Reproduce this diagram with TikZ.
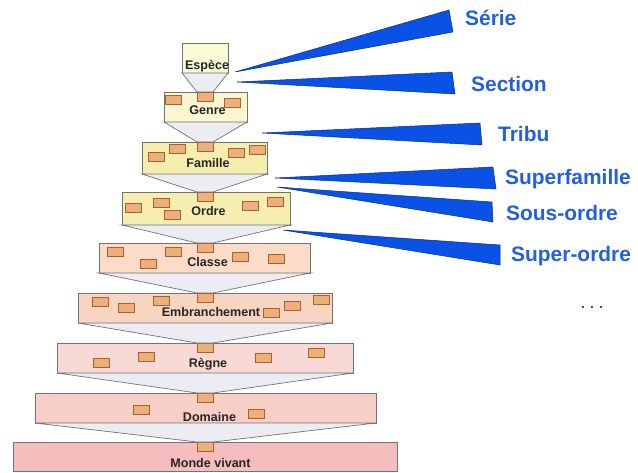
\documentclass[tikz,border=0pt]{standalone}
\usepackage{fontspec}
\setmainfont{Liberation Sans}
\definecolor{cEsp}{RGB}{251,250,214}
\definecolor{cGen}{RGB}{250,247,208}
\definecolor{cFam}{RGB}{245,238,174}
\definecolor{cOrd}{RGB}{245,238,176}
\definecolor{cCla}{RGB}{251,220,200}
\definecolor{cEmb}{RGB}{248,213,195}
\definecolor{cReg}{RGB}{249,217,214}
\definecolor{cDom}{RGB}{247,207,198}
\definecolor{cMon}{RGB}{245,189,189}
\definecolor{cFun}{RGB}{236,236,243}
\definecolor{cTagF}{RGB}{238,176,122}
\definecolor{cTagD}{RGB}{165,98,48}
\definecolor{cWedge}{RGB}{10,82,230}
\definecolor{cWedgeD}{RGB}{10,40,140}
\definecolor{cBlue}{RGB}{35,95,222}
\definecolor{cDots}{RGB}{55,70,140}
\begin{document}
\begin{tikzpicture}[x=1bp,y=-1bp,
  lvl/.style={draw=black!55, line width=0.7bp, inner sep=0, outer sep=0},
  tag/.style={draw=cTagD, fill=cTagF, line width=0.8bp, minimum width=16bp, minimum height=9bp, inner sep=0, outer sep=0},
  funnel/.style={draw=black!55, line width=0.7bp, fill=cFun},
  lvltext/.style={anchor=base, inner sep=0, font=\bfseries\fontsize{12.6}{14}\selectfont, text=black!85},
  wedge/.style={fill=cWedge, draw=cWedgeD, line width=0.5bp, line join=miter},
  rank/.style={anchor=base west, inner sep=0, font=\bfseries\fontsize{21}{24}\selectfont, text=cBlue}]
\useasboundingbox (0,0) rectangle (638,473);
% level boxes
\node[lvl, fill=cEsp, minimum width=46bp, minimum height=30bp] (espece) at (205,58) {};
\node[lvl, fill=cGen, minimum width=83bp, minimum height=30bp] (genre) at (205.5,107) {};
\node[lvl, fill=cFam, minimum width=125bp, minimum height=32bp] (famille) at (204.5,158) {};
\node[lvl, fill=cOrd, minimum width=168bp, minimum height=33bp] (ordre) at (206,208.5) {};
\node[lvl, fill=cCla, minimum width=211bp, minimum height=30bp] (classe) at (204.5,258) {};
\node[lvl, fill=cEmb, minimum width=254bp, minimum height=30bp] (embr) at (205,308) {};
\node[lvl, fill=cReg, minimum width=296bp, minimum height=30bp] (regne) at (205,358) {};
\node[lvl, fill=cDom, minimum width=341bp, minimum height=30bp] (domaine) at (205.5,408) {};
\node[lvl, fill=cMon, minimum width=384bp, minimum height=29bp] (monde) at (205,456.5) {};
% central tags
\node[tag, anchor=north] (genreC) at (205,92) {};
\node[tag, anchor=north] (familleC) at (205,142) {};
\node[tag, anchor=north] (ordreC) at (205,192) {};
\node[tag, anchor=north] (classeC) at (205,243) {};
\node[tag, anchor=north] (embrC) at (205,293) {};
\node[tag, anchor=north] (regneC) at (205,343) {};
\node[tag, anchor=north] (domaineC) at (205,393) {};
\node[tag, anchor=north] (mondeC) at (205,442) {};
% funnels
\draw[funnel] (espece.south west) -- (genreC.north west) -- (genreC.north east) -- (espece.south east) -- cycle;
\draw[funnel] (genre.south west) -- (familleC.north west) -- (familleC.north east) -- (genre.south east) -- cycle;
\draw[funnel] (famille.south west) -- (ordreC.north west) -- (ordreC.north east) -- (famille.south east) -- cycle;
\draw[funnel] (ordre.south west) -- (classeC.north west) -- (classeC.north east) -- (ordre.south east) -- cycle;
\draw[funnel] (classe.south west) -- (embrC.north west) -- (embrC.north east) -- (classe.south east) -- cycle;
\draw[funnel] (embr.south west) -- (regneC.north west) -- (regneC.north east) -- (embr.south east) -- cycle;
\draw[funnel] (regne.south west) -- (domaineC.north west) -- (domaineC.north east) -- (regne.south east) -- cycle;
\draw[funnel] (domaine.south west) -- (mondeC.north west) -- (mondeC.north east) -- (domaine.south east) -- cycle;
% other tags
\node[tag] (g1) at (173.5,100) {};
\node[tag] (g2) at (232.5,103) {};
\node[tag] (f1) at (156.5,157) {};
\node[tag] (f2) at (177.5,148.5) {};
\node[tag] (f3) at (236,152.5) {};
\node[tag] (f4) at (257.5,149.5) {};
\node[tag] (o1) at (133.5,207.5) {};
\node[tag] (o2) at (161.5,202.5) {};
\node[tag] (o3) at (172.5,214.5) {};
\node[tag] (o4) at (250.5,206) {};
\node[tag] (o5) at (275,201.5) {};
\node[tag] (c1) at (115,251.5) {};
\node[tag] (c2) at (148.5,263.5) {};
\node[tag] (c3) at (173.5,251.5) {};
\node[tag] (c4) at (240,256.5) {};
\node[tag] (c5) at (276.5,258.5) {};
\node[tag] (e1) at (100,302) {};
\node[tag] (e2) at (126.5,307.5) {};
\node[tag] (e3) at (161.5,301) {};
\node[tag] (e4) at (292,306) {};
\node[tag] (e5) at (321,300) {};
\node[tag] (r1) at (101.5,362.5) {};
\node[tag] (r2) at (146,356.5) {};
\node[tag] (r3) at (263.5,357.5) {};
\node[tag] (r4) at (316.5,352.5) {};
\node[tag] (d1) at (141.5,410) {};
\node[tag] (d2) at (256.5,413.5) {};
% level texts
\node[lvltext] (tEsp) at (207,70) {Espèce};
\node[lvltext] (tGen) at (207.5,115) {Genre};
\node[lvltext] (tFam) at (208,168) {Famille};
\node[lvltext] (tOrd) at (208.5,216) {Ordre};
\node[lvltext] (tCla) at (207.5,267) {Classe};
\node[lvltext] (tEmb) at (211,317) {Embranchement};
\node[tag] (e6) at (271,312.5) {};
\node[lvltext] (tReg) at (208,367) {Règne};
\node[lvltext] (tDom) at (209.5,421) {Domaine};
\node[lvltext] (tMon) at (210.5,467) {Monde vivant};
% wedges
\draw[wedge] (235,72) -- (449,10) -- (453,32) -- cycle;
\draw[wedge] (237,82) -- (452,72) -- (455,94) -- cycle;
\draw[wedge] (262,133) -- (480,123) -- (482,145) -- cycle;
\draw[wedge] (275,178) -- (493,167) -- (496,189) -- cycle;
\draw[wedge] (277,187) -- (492,202) -- (493,222) -- cycle;
\draw[wedge] (283,230) -- (500,245) -- (500,265) -- cycle;
% rank labels
\node[rank] (serie) at (465,26) {Série};
\node[rank] (section) at (471,92) {Section};
\node[rank] (tribu) at (498,142) {Tribu};
\node[rank] (superfam) at (505,185) {Superfamille};
\node[rank] (sousordre) at (506,221) {Sous-ordre};
\node[rank] (superordre) at (511,262) {Super-ordre};
\node[anchor=base, inner sep=0, font=\bfseries\fontsize{14}{16}\selectfont, text=cDots] (dots) at (592,309) {. . .};
\end{tikzpicture}
\end{document}
